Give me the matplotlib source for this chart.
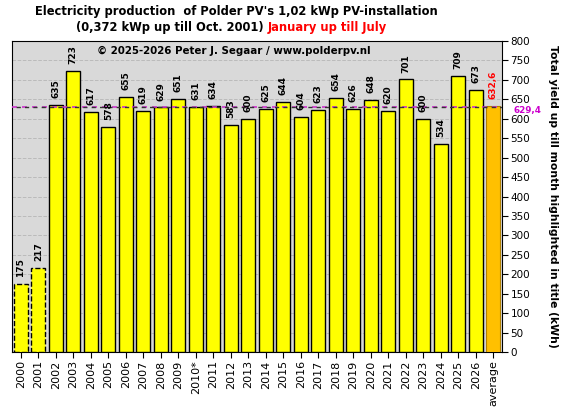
import matplotlib
matplotlib.use("Agg")
import matplotlib.pyplot as plt

years = ["2000", "2001", "2002", "2003", "2004", "2005", "2006", "2007", "2008", "2009",
         "2010*", "2011", "2012", "2013", "2014", "2015", "2016", "2017", "2018", "2019",
         "2020", "2021", "2022", "2023", "2024", "2025", "2026"]
values = [175, 217, 635, 723, 617, 578, 655, 619, 629, 651,
          631, 634, 583, 600, 625, 644, 604, 623, 654, 626,
          648, 620, 701, 600, 534, 709, 673]
avg_label = "average"
avg_value = 632.6
ref_line = 629.4

plt.rcParams['font.family'] = ['DejaVu Sans']

fig = plt.figure(figsize=(5.71, 4.07), dpi=100)
ax = fig.add_axes([12/571, 1-352/407, 490/571, 311/407])
ax.set_facecolor('#D9D9D9')

labels = years + [avg_label]
n = len(labels)
x = list(range(n))
for i, v in enumerate(values):
    ls = '--' if i < 2 else '-'
    ax.bar(i, v, width=0.8, color='#FFFF00', edgecolor='black', linewidth=1.0,
           linestyle=ls, zorder=3)
    ax.annotate(str(v), (i, v), xytext=(0, 5), textcoords='offset points',
                rotation=90, ha='center', va='bottom',
                fontsize=6.5, fontweight='bold', color='black', zorder=5)
ax.bar(n-1, avg_value, width=0.8, color='#FFC000', edgecolor='#B08000', linewidth=0.8, zorder=3)
ax.annotate(f"{avg_value:.1f}".replace('.', ','), (n-1, avg_value), xytext=(0, 5),
            textcoords='offset points', rotation=90, ha='center',
            va='bottom', fontsize=6.5, fontweight='bold', color='#FF0000', zorder=5)

ax.axhline(ref_line, color='#CC33CC', linestyle=(0, (3, 3)), linewidth=1.2, zorder=4)
ax.axhline(ref_line, color='#333333', linestyle=(3, (3, 3)), linewidth=1.0, zorder=4)
ax.annotate(f"{ref_line:.1f}".replace('.', ','), (1.0, 625), xycoords=('axes fraction', 'data'),
            xytext=(8, 0), textcoords='offset points', color='#CC00CC',
            fontsize=6.3, fontweight='bold', va='center_baseline', ha='left', zorder=6,
            annotation_clip=False)

ax.set_xlim(-0.5, n - 0.5)
ax.set_ylim(0, 800)
ax.set_yticks(range(0, 801, 50))
ax.yaxis.tick_right()
ax.yaxis.set_label_position('right')
ax.tick_params(axis='y', labelsize=7.5, length=4, pad=2)
ax.set_xticks(x)
ax.set_xticklabels(labels, rotation=90, fontsize=8)
ax.tick_params(axis='x', length=4, pad=2)
ax.grid(axis='y', color='#BBBBBB', linestyle='--', linewidth=0.7, zorder=0)
ax.set_axisbelow(True)
for s in ax.spines.values():
    s.set_color('black')

ax.set_ylabel("Total yield up till month highlighted in title (kWh)", fontsize=7.8,
              fontweight='bold', rotation=270, labelpad=20)

fig.text(234/571, 1 - 51/407, "© 2025-2026 Peter J. Segaar / www.polderpv.nl",
         ha='center', va='center', fontsize=7.4, fontweight='bold', zorder=7)

fig.text(236/571, 1 - 12/407, "Electricity production  of Polder PV's 1,02 kWp PV-installation",
         ha='center', va='center', fontsize=8.3, fontweight='bold')
fig.text(268/571, 1 - 27/407, "(0,372 kWp up till Oct. 2001) ", ha='right', va='center',
         fontsize=8.3, fontweight='bold')
fig.text(268/571, 1 - 27/407, "January up till July", ha='left', va='center',
         fontsize=8.3, fontweight='bold', color='#FF0000')

fig.savefig("out.png", dpi=100)
